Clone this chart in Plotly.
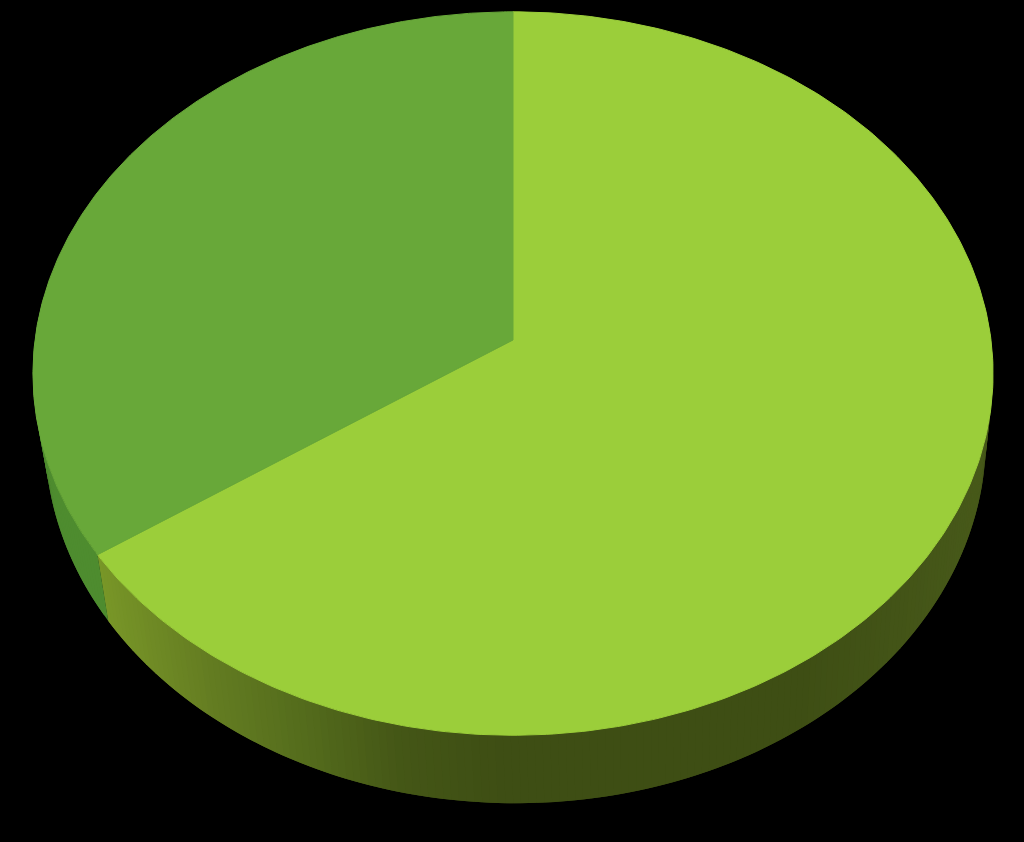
import numpy as np
import plotly.graph_objects as go

# slice shares, clockwise from 12 o'clock
slice_names = ["A", "B"]
slice_values = [65.4, 34.6]

# picture geometry of the tilted disc
CX, CY = 513.0, 340.0
RX, RY = 478.0, 358.6
PERSP = 0.0927
SIDE_SCALE = 0.98
SIDE_SHIFT = 2.5
TOP_COLORS = ["#9bce3a", "#68a839"]
# side shading by screen x
SHADE_X = [90, 200, 300, 400, 500, 800, 1000]
SHADE_LIME = [(122, 152, 40), (101, 126, 34), (84, 108, 28), (68, 86, 22),
              (62, 78, 20), (62, 78, 20), (72, 90, 26)]
SHADE_DARK = [(78, 140, 47), (78, 140, 47), (78, 140, 47), (78, 140, 47),
              (78, 140, 47), (78, 140, 47), (78, 140, 47)]


def top_xy(theta):
    """Screen position of a rim point on the top face."""
    u, v = np.sin(theta), -np.cos(theta)
    w = 1 - PERSP * v
    return CX + RX * u / w, CY + RY * v / w


def bottom_xy(theta):
    """Same rim point on the lower edge of the side wall."""
    x, y = top_xy(theta)
    v = -np.cos(theta)
    return CX + SIDE_SHIFT + SIDE_SCALE * (x - CX), y + 64 + 4 * v


def shade(x, stops):
    rgb = [np.interp(x, SHADE_X, [s[i] for s in stops]) for i in range(3)]
    return "rgb({:.0f},{:.0f},{:.0f})".format(*rgb)


def polygon(x, y, color, width=1):
    return go.Scatter(
        x=list(x), y=list(y), mode="lines", fill="toself", fillcolor=color,
        line=dict(color=color, width=width), hoverinfo="skip", showlegend=False,
    )


shares = np.array(slice_values) / sum(slice_values)
edges = np.concatenate([[0], np.cumsum(shares)]) * 2 * np.pi

fig = go.Figure()

# side wall first, only the part facing the viewer
for i, stops in enumerate([SHADE_LIME, SHADE_DARK]):
    steps = max(int((edges[i + 1] - edges[i]) / 0.015), 2)
    angles = np.linspace(edges[i], edges[i + 1], steps + 1)
    step = angles[1] - angles[0]
    for a, b in zip(angles[:-1], angles[1:]):
        if -np.cos(a) < -0.1 and -np.cos(b) < -0.1:
            continue
        # strips overlap a little so no seams show between them
        end = min(b + step, edges[i + 1])
        arc = np.linspace(a, end, 4)
        xt, yt = top_xy(arc)
        xb, yb = bottom_xy(arc)
        fig.add_trace(polygon(np.r_[xt, xb[::-1], xt[0]], np.r_[yt, yb[::-1], yt[0]],
                              shade(top_xy((a + b) / 2)[0], stops), width=0))

# top face
for i, name in enumerate(slice_names):
    angles = np.linspace(edges[i], edges[i + 1], 300)
    x, y = top_xy(angles)
    fig.add_trace(polygon(np.r_[CX, x, CX], np.r_[CY, y, CY], TOP_COLORS[i]))

fig.update_layout(
    width=1024, height=842,
    margin=dict(l=0, r=0, t=0, b=0),
    paper_bgcolor="#000000", plot_bgcolor="#000000",
    xaxis=dict(range=[0, 1024], visible=False),
    yaxis=dict(range=[842, 0], visible=False),
)

fig.write_html(
    "out.html",
    config={"displayModeBar": False},
    post_script="document.body.style.margin='0';document.body.style.background='#000';",
)
